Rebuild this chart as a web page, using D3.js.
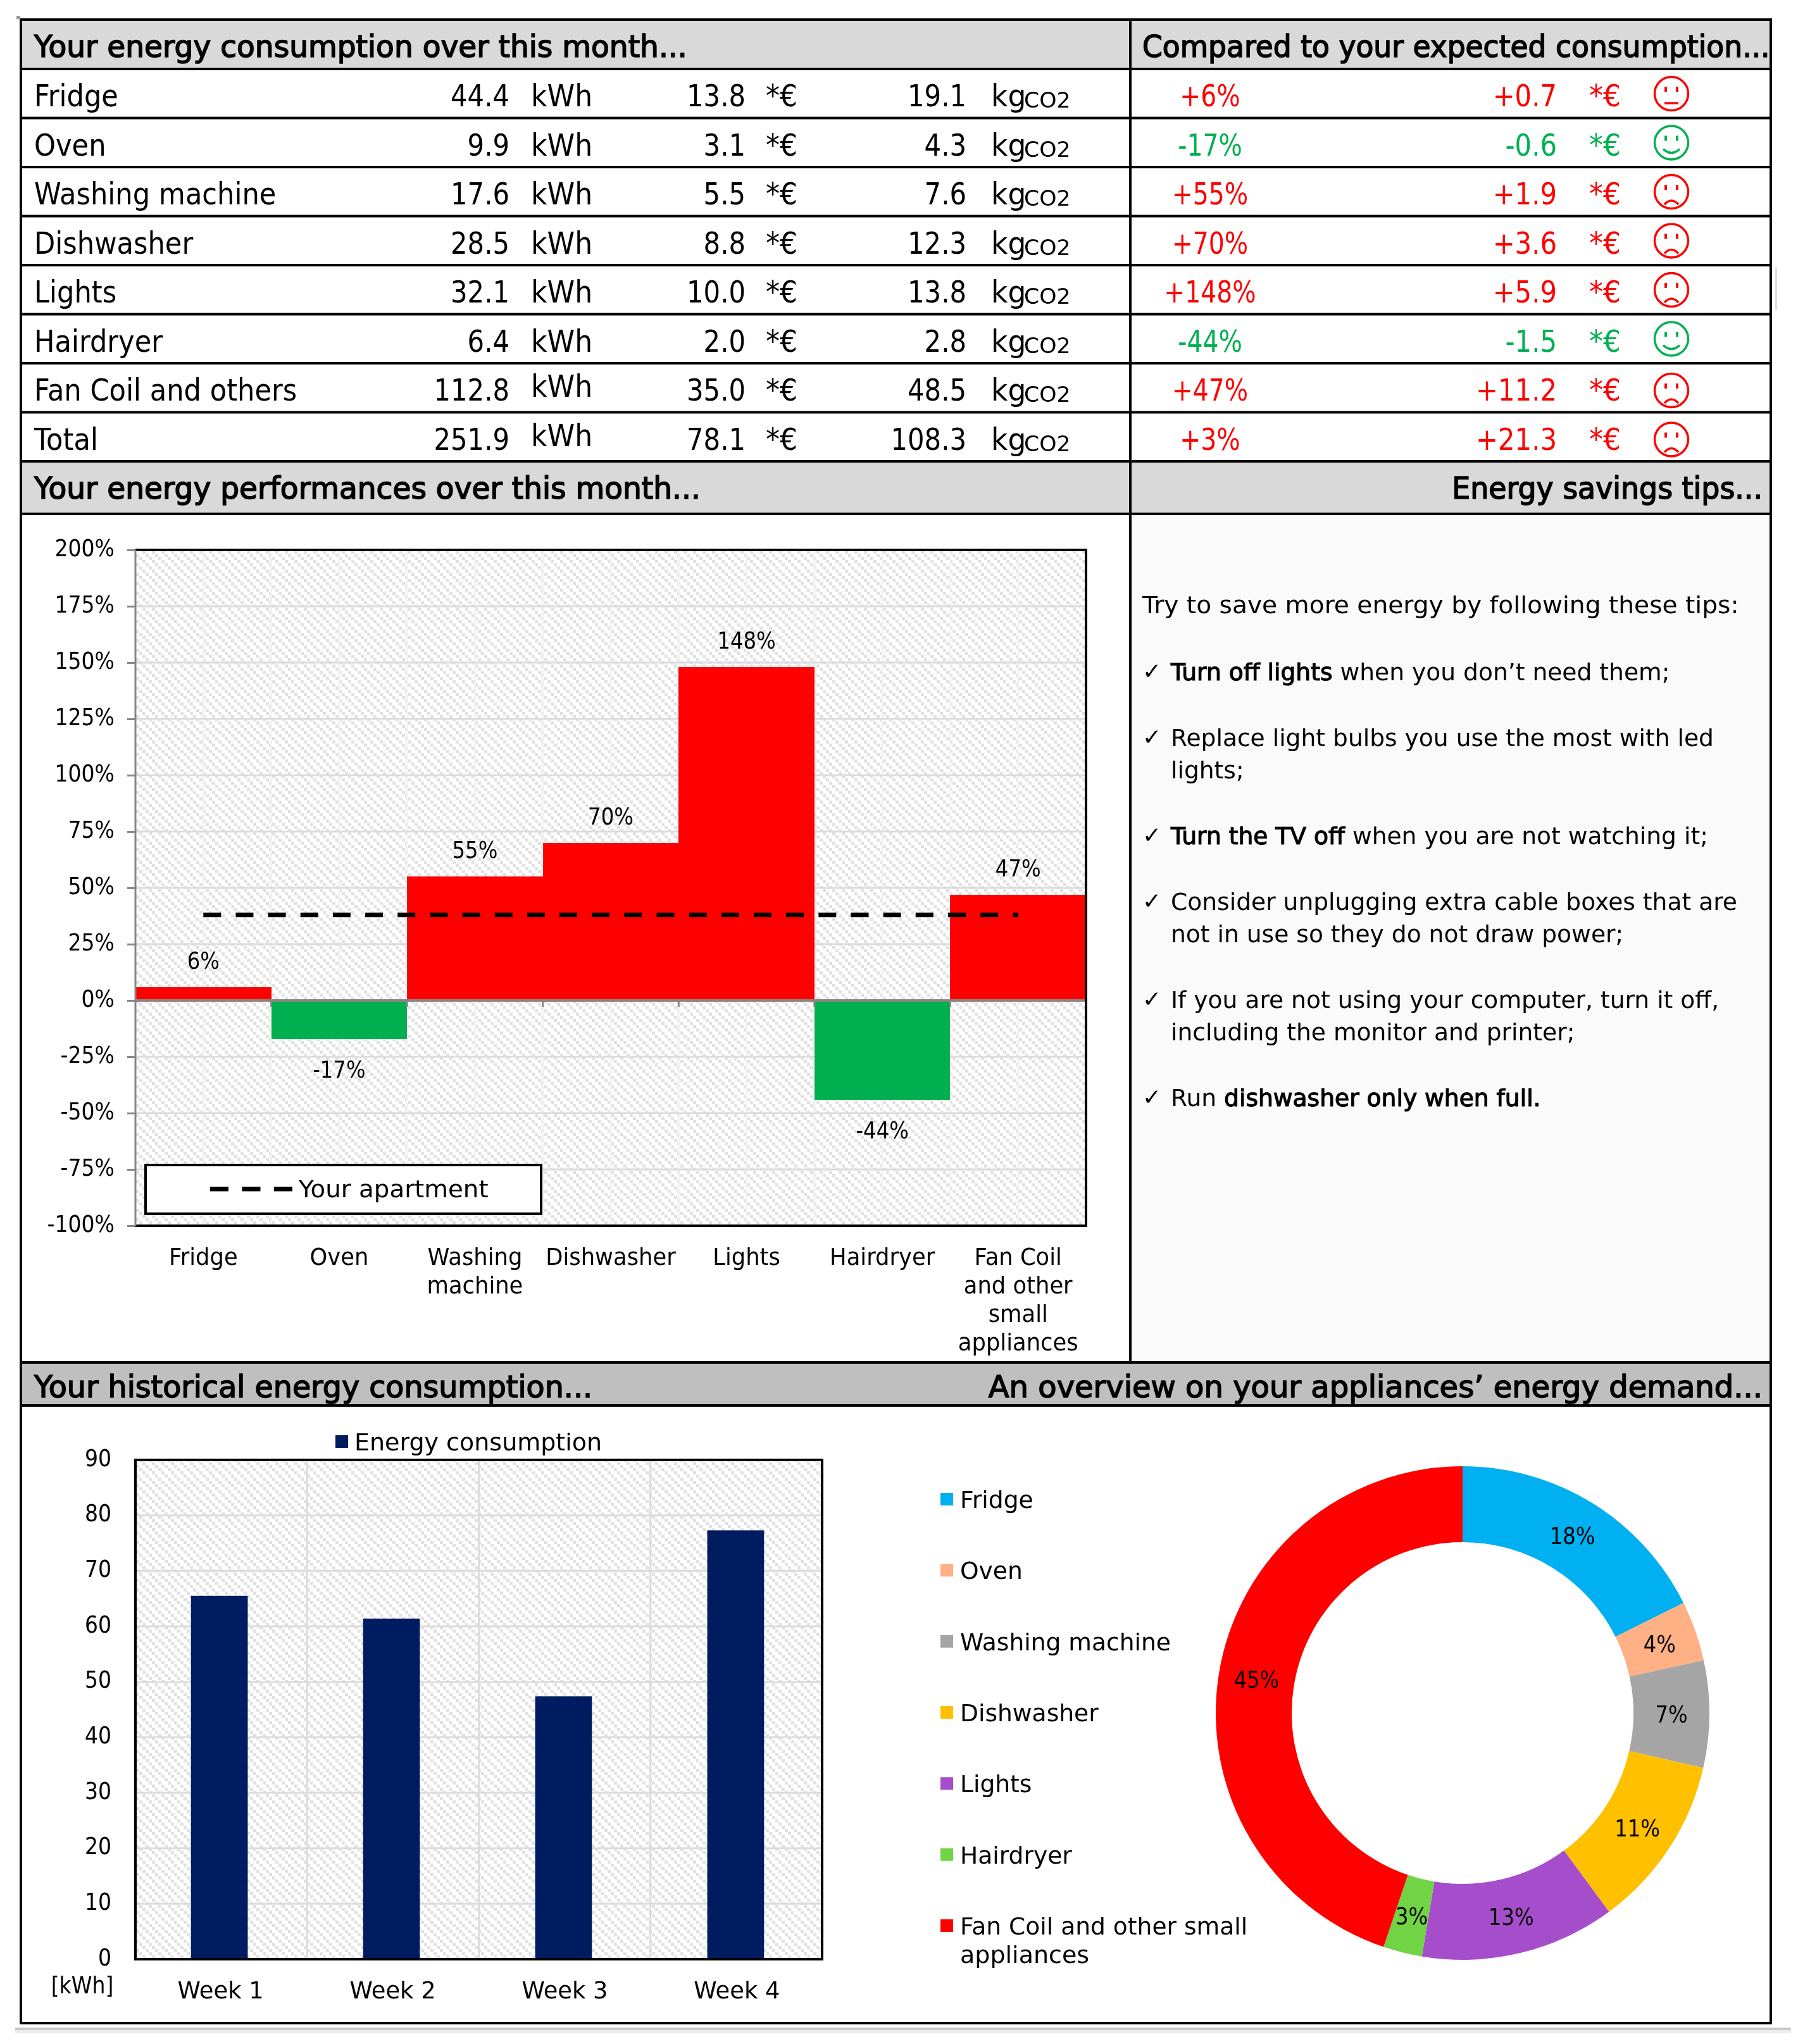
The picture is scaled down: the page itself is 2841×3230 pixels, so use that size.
<!DOCTYPE html>
<html>
<head>
<meta charset="utf-8">
<script src="https://cdn.jsdelivr.net/npm/d3@7/dist/d3.min.js"></script>
<style>
body { margin: 0; background: #fff; }
svg { filter: blur(0.6px); }
text { font-family: "DejaVu Sans", sans-serif; fill: #000; }
</style>
</head>
<body>
<svg id="sheet" width="2841" height="3230"></svg>
<script>
//Table values
var rowNames = ["Fridge", "Oven", "Washing machine", "Dishwasher", "Lights", "Hairdryer", "Fan Coil and others", "Total"]
var kWh = ["44.4", "9.9", "17.6", "28.5", "32.1", "6.4", "112.8", "251.9"]
var euro = ["13.8", "3.1", "5.5", "8.8", "10.0", "2.0", "35.0", "78.1"]
var kgCo2 = ["19.1", "4.3", "7.6", "12.3", "13.8", "2.8", "48.5", "108.3"]
var deltaPct = [6, -17, 55, 70, 148, -44, 47, 3]
var deltaEuro = ["+0.7", "-0.6", "+1.9", "+3.6", "+5.9", "-1.5", "+11.2", "+21.3"]

//Performance chart
var perfCats = ["Fridge", "Oven", "Washing machine", "Dishwasher", "Lights", "Hairdryer", "Fan Coil"]
var perfCatLines = [["Fridge"], ["Oven"], ["Washing", "machine"], ["Dishwasher"], ["Lights"], ["Hairdryer"], ["Fan Coil", "and other", "small", "appliances"]]
var perfValues = [6, -17, 55, 70, 148, -44, 47]
var apartment = [38, 38, 38, 38, 38, 38, 38]
var perfTicks = [-100, -75, -50, -25, 0, 25, 50, 75, 100, 125, 150, 175, 200]

//History chart
var weeks = ["Week 1", "Week 2", "Week 3", "Week 4"]
var weekValues = [65.5, 61.4, 47.4, 77.3]
var weekTicks = [0, 10, 20, 30, 40, 50, 60, 70, 80, 90]

//Donut
var pieNames = ["Fridge", "Oven", "Washing machine", "Dishwasher", "Lights", "Hairdryer", "Fan Coil and  other small"]
var pieValues = [44.4, 9.9, 17.6, 28.5, 32.1, 6.4, 112.8]
var pieLabels = ["18%", "4%", "7%", "11%", "13%", "3%", "45%"]
var pieColors = ["#00b0f0", "#ffb084", "#a5a5a5", "#ffc000", "#a64dcc", "#70d444", "#ff0000"]

//Tips, bold parts are flagged
var tipIntro = "Try to save more energy by following these tips:"
var tips = [
	[[["Turn off lights", true], [" when you don\u2019t need them;", false]]],
	[[["Replace light bulbs you use the most with led", false]], [["lights;", false]]],
	[[["Turn the TV off", true], [" when you are not watching it;", false]]],
	[[["Consider unplugging extra cable boxes that are", false]], [["not in use so they do not draw power;", false]]],
	[[["If you are not using your computer, turn it off,", false]], [["including the monitor and printer;", false]]],
	[[["Run ", false], ["dishwasher only when full.", true]]]
]

var RED = "#ff0000", GREEN = "#00b050"

var svg = d3.select("#sheet")

//text helper, the source is squeezed sideways so sx narrows the glyphs
function txt(g, x, y, s, o) {
	o = o || {}
	var sx = o.sx || 0.87
	return g.append("text")
		.attr("transform", "translate(" + x + "," + y + ") scale(" + sx + ",1)")
		.attr("text-anchor", o.anchor || "start")
		.style("font-size", (o.size || 48) + "px")
		.style("fill", o.fill || "#000")
		.style("stroke", o.bold ? (o.fill || "#000") : "none")
		.style("stroke-width", o.bold ? o.bold : 0)
		.text(s)
}

//hatch used behind the two bar charts
var defs = svg.append("defs")
var hatch = defs.append("pattern").attr("id", "hatch").attr("patternUnits", "userSpaceOnUse")
	.attr("width", 15).attr("height", 15)
hatch.append("rect").attr("width", 15).attr("height", 15).attr("fill", "#fff")
d3.range(3).forEach(function(i) {
	hatch.append("rect").attr("x", i * 5).attr("y", i * 5).attr("width", 5).attr("height", 5).attr("fill", "#e2e2e2")
})

//----- frame and section headers
var L = 33, R = 2798, MID = 1786, TOP = 31, BOTTOM = 3197
var Y_HEAD1 = 109, Y_TABLE_END = 729, Y_HEAD2 = 812, Y_HEAD3T = 2153, Y_HEAD3B = 2221

svg.append("rect").attr("x", L).attr("y", TOP).attr("width", R - L).attr("height", Y_HEAD1 - TOP).attr("fill", "#d9d9d9")
svg.append("rect").attr("x", L).attr("y", Y_TABLE_END).attr("width", R - L).attr("height", Y_HEAD2 - Y_TABLE_END).attr("fill", "#d9d9d9")
svg.append("rect").attr("x", L).attr("y", Y_HEAD3T).attr("width", R - L).attr("height", Y_HEAD3B - Y_HEAD3T).attr("fill", "#bfbfbf")
svg.append("rect").attr("x", MID).attr("y", Y_HEAD2).attr("width", R - MID).attr("height", Y_HEAD3T - Y_HEAD2).attr("fill", "#fafafa")

var heads = svg.append("g")
txt(heads, 54, 90, "Your energy consumption over this month...", {sx: 0.98, bold: 1.6})
txt(heads, 1805, 90, "Compared to your expected consumption...", {sx: 0.95, bold: 1.6})
txt(heads, 54, 788, "Your energy performances over this month...", {sx: 0.98, bold: 1.6})
txt(heads, 2785, 788, "Energy savings tips...", {sx: 0.955, bold: 1.6, anchor: "end"})
txt(heads, 54, 2208, "Your historical energy consumption...", {sx: 0.99, bold: 1.6})
txt(heads, 2785, 2208, "An overview on your appliances\u2019 energy demand...", {sx: 1.0, bold: 1.6, anchor: "end"})

//----- table
var rowY = d3.scaleBand().domain(rowNames).range([Y_HEAD1, Y_TABLE_END])
var rows = svg.append("g").selectAll("g").data(rowNames).enter().append("g")
	.attr("class", "row")

rows.each(function(name, i) {
	var g = d3.select(this)
	var base = rowY(name) + 59
	var col = deltaPct[i] > 0 ? RED : GREEN
	var unitShift = i >= 6 ? -6 : 0
	txt(g, 54, base, name, {sx: 0.9})
	txt(g, 805, base, kWh[i], {anchor: "end"})
	txt(g, 839, base + unitShift, "kWh", {sx: 0.92})
	txt(g, 1178, base, euro[i], {anchor: "end"})
	txt(g, 1210, base, "*\u20ac", {sx: 0.92})
	txt(g, 1527, base, kgCo2[i], {anchor: "end"})
	txt(g, 1566, base, "kg", {sx: 0.95})
	txt(g, 1618, base + 2, "CO2", {size: 33, sx: 1.05})
	txt(g, 1912, base, (deltaPct[i] > 0 ? "+" : "") + deltaPct[i] + "%", {anchor: "middle", fill: col, sx: 0.82})
	txt(g, 2460, base, deltaEuro[i], {anchor: "end", fill: col})
	txt(g, 2511, base, "*\u20ac", {fill: col, sx: 0.92})

	//smiley, flat mouth when within 10%
	var cx = 2641, cy = rowY(name) + (i >= 6 ? 43 : 39)
	var face = g.append("g").attr("transform", "translate(" + cx + "," + cy + ")")
		.attr("fill", "none").attr("stroke", col).attr("stroke-width", 3.5)
	face.append("ellipse").attr("rx", 26.5).attr("ry", 26.5)
	face.selectAll("rect").data([-9, 9]).enter().append("rect")
		.attr("x", function(d) { return d - 2 }).attr("y", -11).attr("width", 4).attr("height", 8)
		.attr("fill", col).attr("stroke", "none")
	var mouth = Math.abs(deltaPct[i]) < 10 && i == 0 ? "M-11,15H11"
		: deltaPct[i] < 0 ? "M-13,10Q0,22 13,10" : "M-11,20Q0,8 11,20"
	face.append("path").attr("d", mouth)
})

//----- performance chart
var px0 = 214, px1 = 1716, py0 = 869, py1 = 1937
var x1 = d3.scaleBand().domain(perfCats).range([px0, px1])
var y1 = d3.scaleLinear().domain([-100, 200]).range([py1, py0])
var perf = svg.append("g")

perf.append("rect").attr("x", px0).attr("y", py0).attr("width", px1 - px0).attr("height", py1 - py0).attr("fill", "url(#hatch)")

//vertical grid at every half band
var halfEdges = d3.range(1, perfCats.length * 2)
perf.selectAll("line.vg").data(halfEdges).enter().append("line").attr("class", "vg")
	.attr("x1", function(d) { return px0 + d * x1.step() / 2 })
	.attr("x2", function(d) { return px0 + d * x1.step() / 2 })
	.attr("y1", py0).attr("y2", py1)
	.attr("stroke", "#f2f2f2").attr("stroke-width", 3)
perf.selectAll("line.hg").data(perfTicks).enter().append("line").attr("class", "hg")
	.attr("x1", px0).attr("x2", px1)
	.attr("y1", function(d) { return y1(d) }).attr("y2", function(d) { return y1(d) })
	.attr("stroke", "#dcdcdc").attr("stroke-width", 3)

perf.selectAll("rect.bar").data(perfValues).enter().append("rect").attr("class", "bar")
	.attr("x", function(d, i) { return x1(perfCats[i]) })
	.attr("width", x1.bandwidth())
	.attr("y", function(d) { return y1(Math.max(d, 0)) })
	.attr("height", function(d) { return Math.abs(y1(d) - y1(0)) })
	.attr("fill", function(d) { return d > 0 ? RED : GREEN })
	.attr("shape-rendering", "crispEdges")

//zero line and its ticks
perf.append("line").attr("x1", px0).attr("x2", px1).attr("y1", y1(0)).attr("y2", y1(0))
	.attr("stroke", "#868686").attr("stroke-width", 4)
perf.selectAll("line.zt").data(d3.range(1, perfCats.length + 1)).enter().append("line").attr("class", "zt")
	.attr("x1", function(d) { return px0 + d * x1.step() })
	.attr("x2", function(d) { return px0 + d * x1.step() })
	.attr("y1", y1(0)).attr("y2", y1(0) + 10)
	.attr("stroke", "#868686").attr("stroke-width", 3)

//dashed apartment line
var dash = d3.line()
	.x(function(d, i) { return x1(perfCats[i]) + x1.bandwidth() / 2 })
	.y(function(d) { return y1(d) })
perf.append("path").attr("d", dash(apartment)).attr("fill", "none")
	.attr("stroke", "#000").attr("stroke-width", 7).attr("stroke-dasharray", "28,23.16")

//data labels
perfValues.forEach(function(d, i) {
	var cx = x1(perfCats[i]) + x1.bandwidth() / 2
	var yy = d > 0 ? y1(d) - 29 : y1(d) + 61
	txt(perf, cx, yy, d + "%", {anchor: "middle", size: 38, sx: 0.85})
})

//y axis
var axisL = perf.append("g").attr("transform", "translate(" + px0 + ",0)")
	.call(d3.axisLeft(y1).tickValues(perfTicks).tickSize(13).tickPadding(20).tickFormat(function(d) { return d + "%" }))
axisL.select(".domain").remove()
axisL.selectAll("line").attr("stroke", "#868686").attr("stroke-width", 3)
axisL.selectAll("text").each(function() {
	var t = d3.select(this)
	t.attr("x", -33 / 0.87).attr("dy", "0.26em").attr("transform", "scale(0.87,1)")
		.style("font-size", "38px")
})

//x labels
var axisB = perf.append("g").attr("transform", "translate(0," + py1 + ")")
	.call(d3.axisBottom(x1).tickSize(0))
axisB.select(".domain").remove()
axisB.selectAll("text").each(function(d, i) {
	var t = d3.select(this).text(null).attr("y", 0).attr("dy", null).attr("transform", "scale(0.93,1)")
		.style("font-size", "38px").attr("text-anchor", "middle")
	perfCatLines[i].forEach(function(line, j) {
		t.append("tspan").attr("x", 0).attr("y", 62 + j * 45).text(line)
	})
})

//plot border, left side stays grey
perf.append("path").attr("d", "M" + px0 + "," + py0 + "H" + px1 + "V" + py1 + "H" + px0)
	.attr("fill", "none").attr("stroke", "#000").attr("stroke-width", 4)
perf.append("line").attr("x1", px0).attr("x2", px0).attr("y1", py0).attr("y2", py1)
	.attr("stroke", "#868686").attr("stroke-width", 3)

//legend box
perf.append("rect").attr("x", 230).attr("y", 1841).attr("width", 625).attr("height", 77)
	.attr("fill", "#fff").attr("stroke", "#000").attr("stroke-width", 4)
perf.append("line").attr("x1", 332).attr("x2", 462).attr("y1", 1879).attr("y2", 1879)
	.attr("stroke", "#000").attr("stroke-width", 7).attr("stroke-dasharray", "29,21.5")
txt(perf, 472, 1892, "Your apartment", {size: 38, sx: 1.02})

//----- tips
var tipG = svg.append("g")
txt(tipG, 1805, 969, tipIntro, {size: 38, sx: 1.03})
var ty = 1075
tips.forEach(function(par) {
	txt(tipG, 1805, ty - 2, "\u2713", {size: 36, sx: 1})
	par.forEach(function(line, j) {
		var t = txt(tipG, 1850, ty + j * 51, "", {size: 38, sx: 0.99})
		line.forEach(function(run) {
			var s = t.append("tspan").text(run[0])
			if (run[1]) s.style("stroke", "#000").style("stroke-width", 1.2)
		})
	})
	ty += (par.length - 1) * 51 + 104
})

//----- history chart
var hx0 = 214, hx1 = 1299, hy0 = 2307, hy1 = 3096
var x2 = d3.scaleBand().domain(weeks).range([hx0, hx1]).paddingInner(0.67).paddingOuter(0.33)
var x2edges = d3.scaleLinear().domain([0, weeks.length]).range([hx0, hx1])
var y2 = d3.scaleLinear().domain([0, 90]).range([hy1, hy0])
var hist = svg.append("g")

hist.append("rect").attr("x", hx0).attr("y", hy0).attr("width", hx1 - hx0).attr("height", hy1 - hy0).attr("fill", "url(#hatch)")
hist.selectAll("line.hg").data(weekTicks).enter().append("line").attr("class", "hg")
	.attr("x1", hx0).attr("x2", hx1)
	.attr("y1", function(d) { return y2(d) }).attr("y2", function(d) { return y2(d) })
	.attr("stroke", "#dcdcdc").attr("stroke-width", 3)
hist.selectAll("line.vg").data([1, 2, 3]).enter().append("line").attr("class", "vg")
	.attr("x1", function(d) { return x2edges(d) }).attr("x2", function(d) { return x2edges(d) })
	.attr("y1", hy0).attr("y2", hy1)
	.attr("stroke", "#dcdcdc").attr("stroke-width", 3)
hist.selectAll("rect.bar").data(weekValues).enter().append("rect").attr("class", "bar")
	.attr("x", function(d, i) { return x2(weeks[i]) - 2 })
	.attr("width", x2.bandwidth())
	.attr("y", function(d) { return y2(d) })
	.attr("height", function(d) { return y2(0) - y2(d) })
	.attr("fill", "#001c60")
hist.append("rect").attr("x", hx0).attr("y", hy0).attr("width", hx1 - hx0).attr("height", hy1 - hy0)
	.attr("fill", "none").attr("stroke", "#000").attr("stroke-width", 4)

var axisL2 = hist.append("g").attr("transform", "translate(" + hx0 + ",0)")
	.call(d3.axisLeft(y2).tickValues(weekTicks).tickSize(0))
axisL2.select(".domain").remove()
axisL2.selectAll("text").each(function() {
	d3.select(this).attr("x", -38 / 0.87).attr("dy", "0.24em").attr("transform", "scale(0.87,1)")
		.style("font-size", "38px")
})
var axisB2 = hist.append("g").attr("transform", "translate(0," + hy1 + ")")
	.call(d3.axisBottom(x2).tickSize(0))
axisB2.select(".domain").remove()
axisB2.selectAll("text").each(function() {
	d3.select(this).attr("y", 62).attr("dy", null).attr("transform", "scale(0.97,1)").style("font-size", "38px")
})
txt(hist, 130, 3150, "[kWh]", {size: 38, anchor: "middle", sx: 0.87})
hist.append("rect").attr("x", 530).attr("y", 2268).attr("width", 20).attr("height", 20).attr("fill", "#001c60")
txt(hist, 560, 2292, "Energy consumption", {size: 38, sx: 1})

//----- donut
var cx3 = 2311, cy3 = 2707
var pie = d3.pie().sort(null).value(function(d) { return d })
var arc = d3.arc().innerRadius(270).outerRadius(390)
var donut = svg.append("g").attr("transform", "translate(" + cx3 + "," + cy3 + ")")
var slices = pie(pieValues)
donut.selectAll("path").data(slices).enter().append("path")
	.attr("d", arc)
	.attr("fill", function(d, i) { return pieColors[i] })
slices.forEach(function(s, i) {
	var c = arc.centroid(s)
	txt(donut, c[0], c[1] + 14, pieLabels[i], {size: 38, anchor: "middle", sx: 0.85})
})

//donut legend, evenly spaced down the page
var legY = d3.scalePoint().domain(pieNames).range([2369, 3043])
var leg = svg.append("g")
pieNames.forEach(function(n, i) {
	leg.append("rect").attr("x", 1486).attr("y", legY(n) - 10).attr("width", 20).attr("height", 20).attr("fill", pieColors[i])
	txt(leg, 1517, legY(n) + 14, n, {size: 38, sx: 0.99})
})
txt(leg, 1517, 3102, "appliances", {size: 38, sx: 1})

//----- lines on top of everything
var rules = svg.append("g").attr("stroke", "#000").attr("stroke-width", 4)
rowNames.forEach(function(n) {
	rules.append("line").attr("x1", L).attr("x2", R).attr("y1", rowY(n)).attr("y2", rowY(n))
})
;[Y_TABLE_END, Y_HEAD2, Y_HEAD3T, Y_HEAD3B].forEach(function(y) {
	rules.append("line").attr("x1", L).attr("x2", R).attr("y1", y).attr("y2", y)
})
rules.append("line").attr("x1", MID).attr("x2", MID).attr("y1", TOP).attr("y2", Y_HEAD3T)
rules.append("rect").attr("x", L).attr("y", TOP).attr("width", R - L).attr("height", BOTTOM - TOP).attr("fill", "none")

//stray bits of the screenshot
svg.append("rect").attr("x", 26).attr("y", 25).attr("width", 6).attr("height", 5).attr("fill", "#999")
svg.append("rect").attr("x", 24).attr("y", 3204).attr("width", 2806).attr("height", 4).attr("fill", "#c8c8c8")
svg.append("rect").attr("x", 24).attr("y", 3208).attr("width", 2806).attr("height", 5).attr("fill", "#ececec")
svg.append("rect").attr("x", 2805).attr("y", 422).attr("width", 3).attr("height", 68).attr("fill", "#dddddd")
</script>
</body>
</html>
